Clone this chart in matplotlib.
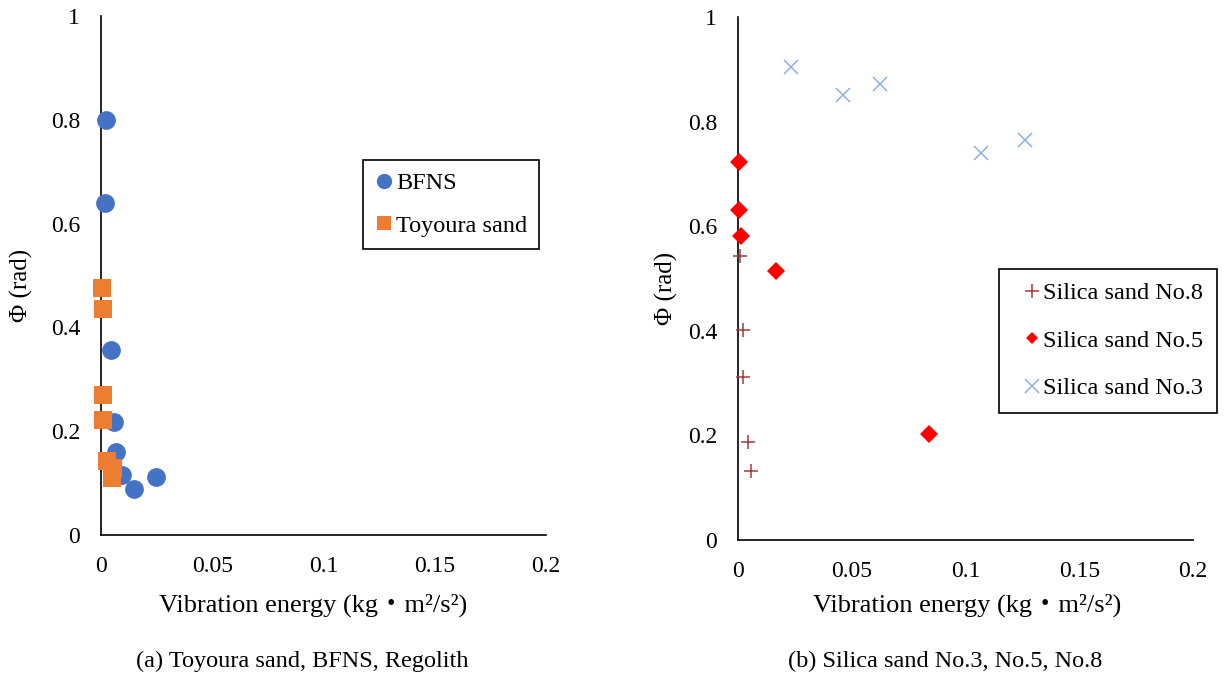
import matplotlib.pyplot as plt
from matplotlib.lines import Line2D

plt.rcParams['font.family'] = ['Liberation Serif', 'Noto Sans CJK JP', 'DejaVu Sans']

# (a) Toyoura sand, BFNS
bfns_x = [0.0022, 0.0018, 0.0045, 0.0058, 0.0067, 0.0095, 0.0149, 0.0245]
bfns_y = [0.800, 0.640, 0.356, 0.218, 0.160, 0.115, 0.088, 0.111]
toyoura_x = [0.0005, 0.0008, 0.0010, 0.0010, 0.0028, 0.0055, 0.0050]
toyoura_y = [0.476, 0.435, 0.270, 0.222, 0.143, 0.129, 0.110]

# (b) Silica sand No.8, No.5, No.3
no8_x = [0.0009, 0.0020, 0.0020, 0.0043, 0.0056]
no8_y = [0.543, 0.402, 0.312, 0.187, 0.131]
no5_x = [0.0003, 0.0006, 0.0013, 0.0167, 0.0840]
no5_y = [0.723, 0.631, 0.581, 0.514, 0.203]
no3_x = [0.0233, 0.0462, 0.0624, 0.1068, 0.1262]
no3_y = [0.904, 0.851, 0.872, 0.740, 0.765]

xticks = [0, 0.05, 0.1, 0.15, 0.2]
xticklabels = ['0', '0.05', '0.1', '0.15', '0.2']
yticks = [0, 0.2, 0.4, 0.6, 0.8, 1]
yticklabels = ['0', '0.2', '0.4', '0.6', '0.8', '1']

W, H = 1228, 681
fig = plt.figure(figsize=(W / 100, H / 100), dpi=100)


def box(x0, x1, y_bottom, y_top):
    return [x0 / W, 1 - y_bottom / H, (x1 - x0) / W, (y_bottom - y_top) / H]


ax1 = fig.add_axes(box(101, 546, 535, 16))
ax2 = fig.add_axes(box(738, 1193, 540, 17))

for ax in (ax1, ax2):
    ax.set_xlim(0, 0.2)
    ax.set_ylim(0, 1)
    ax.set_xticks(xticks)
    ax.set_xticklabels(xticklabels)
    ax.set_yticks(yticks)
    ax.set_yticklabels(yticklabels)
    ax.tick_params(length=0, labelsize=17)
    ax.tick_params(axis='y', pad=15)
    ax.tick_params(axis='x', pad=15)
    for s in ('top', 'right'):
        ax.spines[s].set_visible(False)
    ax.spines['left'].set_linewidth(1.2)
    ax.spines['bottom'].set_linewidth(1.2)
    ax.spines['left'].set_zorder(1)
    ax.spines['bottom'].set_zorder(1)

ax1.plot(bfns_x, bfns_y, 'o', color='#4472C4', ms=13.5, mew=0, clip_on=False, zorder=3)
ax1.plot(toyoura_x, toyoura_y, 's', color='#ED7D31', ms=13.5, mew=0, clip_on=False, zorder=4)

ax2.plot(no8_x, no8_y, '+', color='#A33A3A', ms=10, mew=1.1, clip_on=False, zorder=3)
ax2.plot(no5_x, no5_y, 'D', color='#FF0000', ms=9, mew=0, clip_on=False, zorder=3)
ax2.plot(no3_x, no3_y, 'x', color='#8FB0DE', ms=9.5, mew=1.1, clip_on=False, zorder=3)

h1 = [Line2D([], [], ls='none', marker='o', color='#4472C4', ms=11, mew=0),
      Line2D([], [], ls='none', marker='s', color='#ED7D31', ms=10.5, mew=0)]
leg1 = fig.legend(h1, ['BFNS', 'Toyoura sand'], loc='upper left',
                  bbox_to_anchor=(363 / W, 1 - 160 / H), fontsize=17.5,
                  fancybox=False, edgecolor='black', framealpha=1,
                  handlelength=0.7, handletextpad=0.15, labelspacing=0.85,
                  borderpad=0.5, borderaxespad=0)
leg1.get_frame().set_linewidth(1.2)

h2 = [Line2D([], [], ls='none', marker='+', color='#A33A3A', ms=10, mew=1.1),
      Line2D([], [], ls='none', marker='D', color='#FF0000', ms=6.5, mew=0),
      Line2D([], [], ls='none', marker='x', color='#8FB0DE', ms=9.5, mew=1.1)]
leg2 = fig.legend(h2, ['Silica sand No.8', 'Silica sand No.5', 'Silica sand No.3'],
                  loc='upper left', bbox_to_anchor=(999 / W, 1 - 269 / H), fontsize=17.5,
                  fancybox=False, edgecolor='black', framealpha=1,
                  handlelength=1.6, handletextpad=-0.33, labelspacing=1.05,
                  borderpad=0.55, borderaxespad=0)
leg2.get_frame().set_linewidth(1.2)

xlabel = 'Vibration energy (kg・m²/s²)'
fig.text(313 / W, 1 - 605 / H, xlabel, ha='center', va='center', fontsize=19)
fig.text(967 / W, 1 - 605 / H, xlabel, ha='center', va='center', fontsize=19)
fig.text(21 / W, 1 - 285 / H, 'Φ (rad)', ha='center', va='center', fontsize=18, rotation=90)
fig.text(666 / W, 1 - 288 / H, 'Φ (rad)', ha='center', va='center', fontsize=18, rotation=90)

fig.text(302 / W, 1 - 661 / H, '(a) Toyoura sand, BFNS, Regolith', ha='center', va='center', fontsize=17.5)
fig.text(945 / W, 1 - 661 / H, '(b) Silica sand No.3, No.5, No.8', ha='center', va='center', fontsize=17.5)

fig.savefig('out.png', dpi=100)
